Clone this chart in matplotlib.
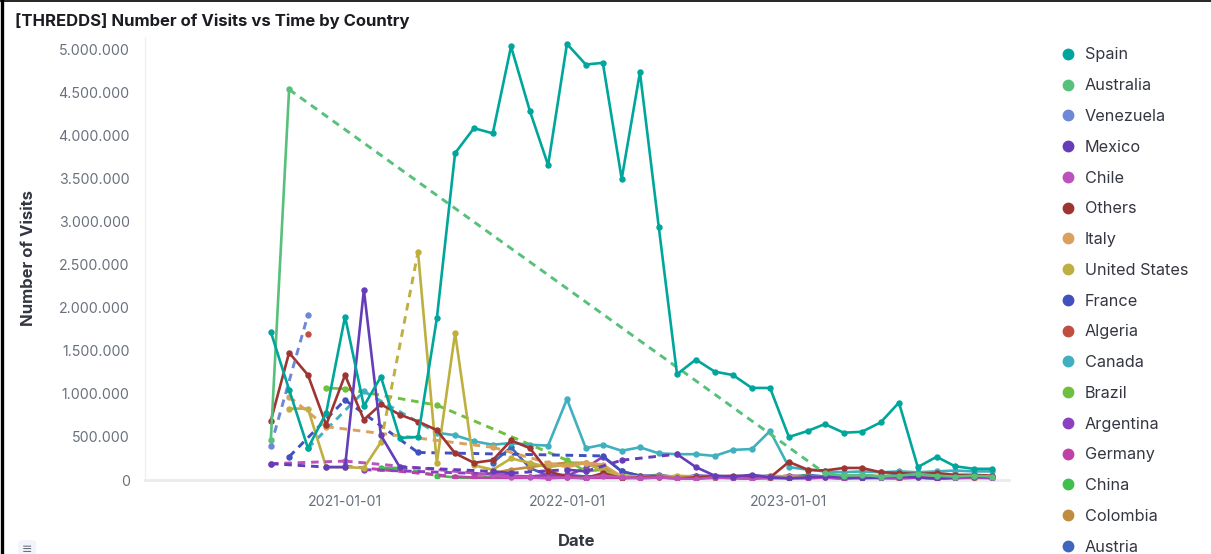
import numpy as np
import pandas as pd
import matplotlib
matplotlib.use('Agg')
import matplotlib.pyplot as plt
import matplotlib.dates as mdates
from matplotlib.ticker import FuncFormatter, MultipleLocator
from matplotlib.lines import Line2D

N = np.nan

# monthly buckets, 2020-09 .. 2023-12 (values in millions of visits)
months = pd.date_range('2020-09-01', '2023-12-01', freq='MS')

countries = ['Spain', 'Australia', 'Venezuela', 'Mexico', 'Chile', 'Others', 'Italy',
             'United States', 'France', 'Algeria', 'Canada', 'Brazil', 'Argentina',
             'Germany', 'China', 'Colombia', 'Austria']
colors = ['#00a69b', '#57c17b', '#6f87d8', '#663db8', '#bc52bc', '#9e3533', '#daa05d',
          '#bfaf40', '#4050bf', '#bf5040', '#40b0bf', '#6fbf40', '#8c40bf',
          '#bf40a6', '#40bf4f', '#bf8c40', '#4065bf']

spain = [1.72, 1.05, 0.37, 0.78, 1.90, 0.86, 1.20, 0.49, 0.50, 1.88,
         3.80, 4.09, 4.03, 5.04, 4.29, 3.66, 5.07, 4.83, 4.85, 3.50,
         4.74, 2.94, 1.23, 1.40, 1.26, 1.22, 1.07, 1.07, 0.50, 0.57,
         0.65, 0.55, 0.56, 0.67, 0.90, 0.15, 0.27, 0.16, 0.13, 0.13]
australia = [0.47, 4.54, N, N, N, N, N, N, N, N,
             N, N, N, N, N, N, N, N, N, N,
             N, N, N, N, N, N, N, N, N, N,
             0.08, 0.05, 0.06, 0.04, 0.05, 0.07, 0.05, 0.04, 0.05, 0.04]
venezuela = [0.40, N, 1.92, N, N, N, N, N, N, N,
             N, N, N, N, N, N, N, N, N, N,
             N, N, N, N, N, N, N, N, N, N,
             N, N, N, N, N, N, N, N, N, N]
mexico = [0.19, N, N, 0.15, 0.15, 2.21, 0.52, 0.15, N, N,
          N, N, 0.10, 0.08, N, N, 0.12, 0.10, N, 0.23,
          N, N, 0.30, 0.15, 0.05, 0.04, 0.06, 0.03, 0.02, 0.03,
          0.04, 0.03, 0.02, 0.03, 0.04, 0.03, 0.02, 0.03, 0.04, 0.03]
chile = [0.19, N, N, N, 0.22, N, N, N, N, N,
         N, N, 0.06, 0.04, 0.03, 0.02, 0.03, 0.02, 0.05, 0.03,
         0.02, 0.03, 0.02, 0.01, 0.03, 0.02, 0.01, 0.03, 0.02, 0.02,
         0.03, 0.01, 0.03, 0.02, 0.02, 0.03, 0.01, 0.02, 0.03, 0.02]
others = [0.69, 1.48, 1.22, 0.64, 1.22, 0.70, 0.88, 0.76, 0.68, 0.58,
          0.31, 0.20, 0.23, 0.46, 0.37, 0.10, 0.04, 0.02, 0.08, 0.02,
          0.03, 0.03, 0.02, 0.03, 0.04, 0.05, 0.04, 0.03, 0.21, 0.12,
          0.11, 0.14, 0.14, 0.09, 0.08, 0.07, 0.08, 0.06, 0.06, 0.05]
italy = [N, 0.97, N, 0.62, N, N, N, N, N, N,
         N, N, 0.38, N, N, 0.20, 0.15, 0.20, 0.18, 0.04,
         0.02, 0.03, 0.02, 0.03, 0.02, 0.04, 0.03, 0.01, 0.03, 0.02,
         0.03, 0.02, 0.04, 0.03, 0.01, 0.03, 0.02, 0.03, 0.02, 0.03]
united_states = [N, 0.83, 0.83, 0.15, 0.15, 0.14, 0.44, N, 2.65, 0.20,
                 1.71, 0.17, 0.12, 0.25, 0.20, 0.15, 0.18, 0.20, 0.10, 0.05,
                 0.04, 0.03, 0.05, 0.04, 0.03, 0.04, 0.03, 0.05, 0.04, 0.03,
                 0.04, 0.05, 0.04, 0.03, 0.04, 0.05, 0.04, 0.03, 0.04, 0.03]
france = [N, 0.27, N, N, 0.93, N, N, N, 0.32, N,
          N, N, N, N, N, N, N, N, 0.28, 0.10,
          0.05, 0.04, 0.03, 0.05, 0.04, 0.03, 0.04, 0.05, 0.03, 0.04,
          0.03, 0.04, 0.05, 0.04, 0.03, 0.04, 0.03, 0.05, 0.04, 0.04]
algeria = [N, N, 1.70, N, N, N, N, N, N, N,
           N, N, N, N, N, N, N, N, N, N,
           N, N, N, N, N, N, N, N, N, N,
           N, N, N, N, N, N, N, N, N, N]
canada = [N, N, 0.37, N, N, 1.03, N, N, N, 0.55,
          0.52, 0.45, 0.41, 0.43, 0.41, 0.40, 0.94, 0.37, 0.41, 0.34,
          0.38, 0.31, 0.30, 0.30, 0.28, 0.35, 0.36, 0.57, 0.15, 0.12,
          0.10, 0.09, 0.10, 0.09, 0.10, 0.09, 0.10, 0.11, 0.10, 0.10]
brazil = [N, N, N, 1.07, 1.06, N, N, N, N, 0.87,
          N, N, N, N, N, N, 0.23, 0.10, 0.12, 0.05,
          0.04, 0.05, 0.03, 0.02, 0.04, 0.03, 0.05, 0.03, 0.04, 0.05,
          0.03, 0.04, 0.03, 0.05, 0.04, 0.03, 0.04, 0.03, 0.04, 0.03]
argentina = [N, N, N, N, N, 0.12, N, N, N, N,
             N, N, 0.07, 0.05, 0.04, 0.06, 0.05, 0.14, 0.27, 0.10,
             0.05, 0.04, 0.03, 0.04, 0.05, 0.03, 0.04, 0.03, 0.05, 0.04,
             0.03, 0.04, 0.05, 0.03, 0.04, 0.03, 0.04, 0.05, 0.03, 0.04]
germany = [N, N, N, N, 0.16, N, N, N, N, N,
           0.04, 0.03, 0.02, 0.01, 0.02, 0.03, 0.02, 0.01, 0.02, 0.01,
           0.02, 0.01, 0.02, 0.03, 0.02, 0.01, 0.02, 0.01, 0.02, 0.01,
           0.02, 0.01, 0.02, 0.01, 0.02, 0.01, 0.02, 0.01, 0.02, 0.01]
china = [N, N, N, N, N, N, 0.14, 0.14, N, 0.05,
         0.03, 0.02, 0.04, 0.02, 0.03, 0.01, 0.03, 0.02, 0.04, 0.02,
         0.03, 0.01, 0.02, 0.03, 0.02, 0.04, 0.02, 0.03, 0.01, 0.03,
         0.04, 0.02, 0.03, 0.02, 0.04, 0.01, 0.03, 0.02, 0.03, 0.02]
colombia = [N, N, N, N, N, N, N, N, N, N,
            N, 0.05, 0.08, 0.12, 0.15, 0.18, 0.20, 0.20, 0.15, 0.04,
            0.03, 0.05, 0.04, 0.02, 0.03, 0.04, 0.02, 0.03, 0.05, 0.04,
            0.02, 0.03, 0.06, 0.04, 0.03, 0.02, 0.04, 0.03, 0.02, 0.03]
austria = [N, N, N, N, N, N, N, N, N, N,
           N, N, 0.20, 0.38, 0.14, 0.05, 0.06, 0.04, 0.05, 0.03,
           0.04, 0.06, 0.03, 0.05, 0.04, 0.03, 0.05, 0.04, 0.03, 0.06,
           0.04, 0.03, 0.05, 0.04, 0.06, 0.03, 0.04, 0.05, 0.03, 0.04]

series = [spain, australia, venezuela, mexico, chile, others, italy, united_states,
          france, algeria, canada, brazil, argentina, germany, china, colombia, austria]

plt.rcParams['font.family'] = ['Inter', 'DejaVu Sans']

W, H = 1211, 554
fig = plt.figure(figsize=(W / 100, H / 100), dpi=100)
ax = fig.add_axes([145 / W, 74 / H, (1009 - 145) / W, (480 - 37) / H])

n = len(countries)
for k in reversed(range(n)):
    y = np.array(series[k], dtype=float) * 1e6
    c = colors[k]
    z = 2 + (n - k) * 0.05
    ax.plot(months, y, color=c, lw=1.9, marker='o', ms=3.6, zorder=z,
            solid_joinstyle='round')
    # missing buckets are bridged with a dashed segment
    ok = np.where(~np.isnan(y))[0]
    for a, b in zip(ok[:-1], ok[1:]):
        if b - a > 1:
            ax.plot([months[a], months[b]], [y[a], y[b]], color=c, lw=2.1,
                    dashes=(2.6, 2.0), zorder=z - 0.01)

ax.set_xlim(pd.Timestamp('2020-02-07'), pd.Timestamp('2023-12-29'))
ax.set_ylim(0, 5.15e6)
ax.yaxis.set_major_locator(MultipleLocator(500000))
ax.yaxis.set_major_formatter(FuncFormatter(lambda v, p: f"{int(round(v)):,}".replace(',', '.')))
ax.xaxis.set_major_locator(mdates.YearLocator())
ax.xaxis.set_major_formatter(mdates.DateFormatter('%Y-%m-%d'))

for s in ['top', 'right']:
    ax.spines[s].set_visible(False)
ax.spines['left'].set_color('#eef0f3')
ax.spines['left'].set_linewidth(1)
ax.spines['bottom'].set_color('#e9ebef')
ax.spines['bottom'].set_linewidth(2)
ax.tick_params(axis='both', length=0, colors='#69707d', labelsize=10.2)
ax.tick_params(axis='y', pad=11)
ax.tick_params(axis='x', pad=11)

ax.set_ylabel('Number of Visits', fontsize=12, fontweight='bold', color='#343741')
ax.yaxis.label.set_va('center')
ax.yaxis.set_label_coords(-0.135, 0.5)
ax.set_xlabel('Date', fontsize=12, fontweight='bold', color='#343741')
ax.xaxis.set_label_coords(0.4996, -0.138)
ax.xaxis.label.set_va('center')

fig.text(15 / W, 1 - 21 / H, '[THREDDS] Number of Visits vs Time by Country',
         fontsize=12, fontweight='bold', color='#1a1c21', va='center')

handles = [Line2D([], [], ls='none', marker='o', ms=7.5, color=c) for c in colors]
leg = fig.legend(handles, countries, loc='upper left',
                 bbox_to_anchor=(1061.6 / W, 1 - 47.5 / H), frameon=False,
                 fontsize=11.7, labelspacing=0.97, handlelength=0.8,
                 handletextpad=0.64, borderpad=0, borderaxespad=0)
for t in leg.get_texts():
    t.set_color('#343741')

# panel border (left and top edges) and the list icon in the corner
fig.add_artist(Line2D([1.5 / W, 1.5 / W], [0, 1], color='black', lw=2.4))
fig.add_artist(Line2D([0, 1], [1 - 0.8 / H, 1 - 0.8 / H], color='black', lw=1.2))
fig.text(22 / W, 1 - 550 / H, '\u2261', fontsize=9, color='#69707d', va='center',
         bbox=dict(boxstyle='round,pad=0.3', fc='#f1f4fa', ec='none'))

fig.savefig('out.png', dpi=100)
